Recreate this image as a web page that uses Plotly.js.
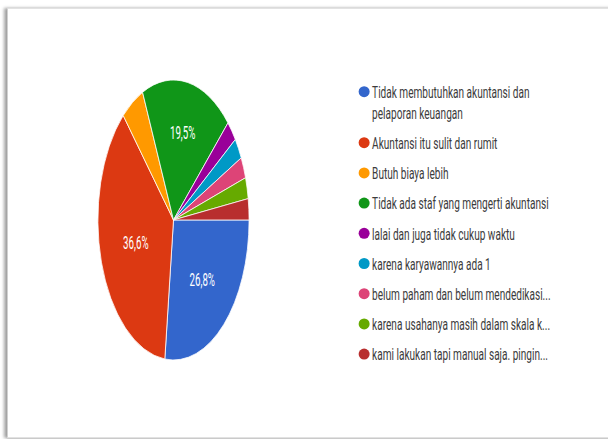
<!DOCTYPE html>
<html>
<head>
<meta charset="utf-8">
<script src="https://cdn.plot.ly/plotly-3.0.1.min.js"></script>
<style>
  html, body { margin: 0; padding: 0; background: #ffffff; overflow: hidden; }
  body { width: 608px; height: 439px; position: relative; }
  #frame {
    position: absolute; left: 7px; top: 8px; width: 660px; height: 428px;
    border-top: 1px solid #e2e2e2; border-left: 1px solid #d0d0d0; border-bottom: 1px solid #e2e2e2;
    background: #ffffff;
    box-shadow: -3px 0 3px rgba(0,0,0,0.35), 0 1px 2px rgba(0,0,0,0.12);
  }
  #chart { position: absolute; left: 0; top: 0; width: 608px; height: 439px; }
</style>
</head>
<body>
<div id="frame"></div>
<div id="chart"></div>
<script>
// ---- data ----
const labels = [
  "Tidak membutuhkan akuntansi dan<br>pelaporan keuangan",
  "Akuntansi itu sulit dan rumit",
  "Butuh biaya lebih",
  "Tidak ada staf yang mengerti akuntansi",
  "lalai dan juga tidak cukup waktu",
  "karena karyawannya ada 1",
  "belum paham dan belum mendedikasi...",
  "karena usahanya masih dalam skala k...",
  "kami lakukan tapi manual saja. pingin..."
];
const counts = [11, 15, 2, 8, 1, 1, 1, 1, 1];
const colors = ["#3366cc", "#dc3912", "#ff9900", "#109618", "#990099",
                "#0099c6", "#dd4477", "#66aa00", "#b82e2e"];

const total = counts.reduce((a, b) => a + b, 0);
const texttemplates = counts.map(v => (v / total >= 0.1 ? "%{percent:.1%}" : ""));

const traces = [{
  type: "pie",
  labels: labels,
  values: counts,
  sort: false,
  direction: "clockwise",
  rotation: 90,
  marker: { colors: colors, line: { color: "#ffffff", width: 1 } },
  texttemplate: texttemplates,
  textposition: "inside",
  insidetextorientation: "horizontal",
  insidetextfont: { color: "#ffffff", size: 18, family: "Roboto, Arial, sans-serif" },
  hoverinfo: "none",
  showlegend: false,
  domain: { x: [0.0551, 0.5156], y: [0.18, 0.8178] }
}];

// legend entries (circle markers), one per category
labels.forEach((lab, i) => {
  traces.push({
    type: "scatter", mode: "markers",
    x: [null], y: [null],
    name: lab,
    legendgroup: "g" + i,
    marker: { color: colors[i], size: 11, symbol: "circle" },
    hoverinfo: "none"
  });
});

const layout = {
  width: 608, height: 439,
  margin: { l: 0, r: 0, t: 0, b: 0, autoexpand: false },
  paper_bgcolor: "rgba(0,0,0,0)",
  plot_bgcolor: "rgba(0,0,0,0)",
  separators: ",.",
  font: { family: "Roboto, Arial, sans-serif", color: "#3c3c3c" },
  xaxis: { visible: false },
  yaxis: { visible: false },
  showlegend: true,
  legend: {
    x: 0.566, xanchor: "left",
    y: 0.8296, yanchor: "top",
    traceorder: "grouped",
    tracegroupgap: 6.4,
    valign: "top",
    itemwidth: 30,
    font: { size: 16, color: "#3c3c3c", family: "Roboto, Arial, sans-serif" },
    bgcolor: "rgba(0,0,0,0)"
  }
};

Plotly.newPlot("chart", traces, layout, { displayModeBar: false, staticPlot: true }).then(gd => {
  // squeeze the pie horizontally like the reference screenshot
  const pieTrace = gd.querySelector(".pielayer g.trace");
  if (pieTrace) {
    const bb = pieTrace.getBBox();
    const cx = bb.x + bb.width / 2;
    gd.querySelector(".pielayer").setAttribute("transform",
      "translate(" + cx + ",0) scale(0.54,1) translate(" + (-cx) + ",0)");
  }
  // condensed legend text
  gd.querySelectorAll(".legend .legendtext").forEach(t => {
    const x = +t.getAttribute("x");
    t.setAttribute("transform",
      "translate(" + (x - 12) + ",0) scale(0.63,1) translate(" + (-x) + ",0)");
  });
});
</script>
</body>
</html>
